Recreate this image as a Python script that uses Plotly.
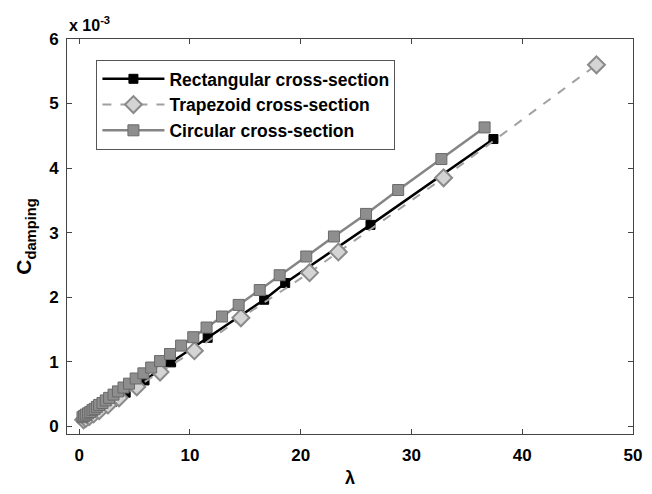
import plotly.graph_objects as go

# Rectangular cross-section (lambda, C_damping in units of 1e-3)
rect_x = [0.4, 0.7, 1.0, 1.5, 2.1, 3.0, 4.2, 5.9, 8.3, 11.6, 16.7, 18.6, 26.3, 37.4]
rect_y = [0.10, 0.13, 0.16, 0.21, 0.28, 0.38, 0.52, 0.71, 0.99, 1.37, 1.96, 2.22, 3.12, 4.45]

# Trapezoid cross-section
trap_x = [0.4, 0.6, 0.9, 1.3, 1.8, 2.6, 3.6, 5.2, 7.3, 10.4, 14.6, 20.8, 23.4, 32.9, 46.7]
trap_y = [0.10, 0.12, 0.15, 0.19, 0.24, 0.33, 0.44, 0.61, 0.84, 1.17, 1.68, 2.38, 2.70, 3.85, 5.60]

# Circular cross-section
circ_x = [0.3, 0.45, 0.6, 0.8, 1.0, 1.2, 1.4, 1.6, 1.8, 2.1, 2.4, 2.7, 3.1, 3.5, 4.0,
          4.5, 5.1, 5.8, 6.5, 7.3, 8.2, 9.2, 10.3, 11.5, 12.9, 14.4, 16.3, 18.1,
          20.5, 23.0, 25.9, 28.8, 32.7, 36.6]
circ_y = [0.14, 0.16, 0.18, 0.20, 0.22, 0.25, 0.27, 0.30, 0.33, 0.36, 0.40, 0.44, 0.49,
          0.54, 0.60, 0.66, 0.74, 0.82, 0.91, 1.01, 1.12, 1.25, 1.38, 1.53, 1.70, 1.88,
          2.11, 2.34, 2.63, 2.94, 3.29, 3.66, 4.14, 4.63]

x_ticks = [0, 10, 20, 30, 40, 50]
y_ticks = [0, 1, 2, 3, 4, 5, 6]

FONT = "Liberation Sans, Arial, sans-serif"

fig = go.Figure()
fig.add_trace(go.Scatter(
    x=rect_x, y=rect_y, mode="lines+markers", name="Rectangular cross-section",
    line=dict(color="black", width=2.5),
    marker=dict(symbol="square", size=9, color="black", line=dict(color="black", width=1)),
))
fig.add_trace(go.Scatter(
    x=trap_x, y=trap_y, mode="lines+markers", name="Trapezoid cross-section",
    line=dict(color="#a0a0a0", width=2, dash="dash"),
    marker=dict(symbol="diamond", size=13, color="#d4d4d4", line=dict(color="#8a8a8a", width=2)),
))
fig.add_trace(go.Scatter(
    x=circ_x, y=circ_y, mode="lines+markers", name="Circular cross-section",
    line=dict(color="#858585", width=2.5),
    marker=dict(symbol="square", size=11, color="#8e8e8e", line=dict(color="#6a6a6a", width=1)),
))

fig.update_layout(
    width=652, height=494,
    margin=dict(l=67, r=10, t=39, b=57),
    paper_bgcolor="white", plot_bgcolor="white",
    font=dict(family=FONT, size=16, color="black", weight="bold"),
    showlegend=True,
    legend=dict(
        x=0.052, y=0.947, xanchor="left", yanchor="top",
        bgcolor="white", bordercolor="#555555", borderwidth=1,
        font=dict(family=FONT, size=17.5, color="black", weight="bold"),
        itemwidth=62, tracegroupgap=0,
    ),
    annotations=[dict(
        x=0, y=1, xref="paper", yref="paper", xanchor="left", yanchor="bottom",
        text="x 10<sup>-3</sup>", showarrow=False, yshift=3,
        font=dict(family=FONT, size=16, color="black", weight="bold"),
    )],
)
fig.update_xaxes(
    range=[-1.1, 50], tickvals=x_ticks, ticktext=[str(v) for v in x_ticks],
    ticks="inside", ticklen=5, tickcolor="#444", showline=True, linecolor="#444",
    linewidth=1, mirror="ticks", showgrid=False, zeroline=False,
    ticklabelstandoff=6,
    tickfont=dict(family=FONT, size=17, weight="bold"),
    title=dict(text="λ", font=dict(family=FONT, size=18, weight="bold"), standoff=6),
)
fig.update_yaxes(
    range=[-0.12, 6], tickvals=y_ticks, ticktext=[str(v) for v in y_ticks],
    ticks="inside", ticklen=5, tickcolor="#444", showline=True, linecolor="#444",
    linewidth=1, mirror="ticks", showgrid=False, zeroline=False,
    ticklabelstandoff=4,
    tickfont=dict(family=FONT, size=17, weight="bold"),
    title=dict(text="C<sub>damping</sub>", font=dict(family=FONT, size=21, weight="bold"), standoff=11),
)

fig.write_html("out.html")
